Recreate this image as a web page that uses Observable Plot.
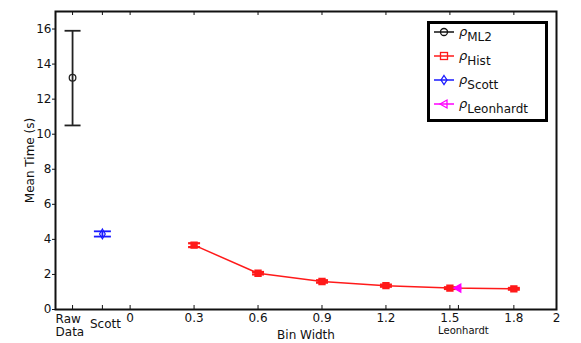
<!DOCTYPE html>
<html><head><meta charset="utf-8">
<script src="https://cdn.jsdelivr.net/npm/d3@7"></script>
<script src="https://cdn.jsdelivr.net/npm/@observablehq/plot@0.6"></script>
<style>
body{margin:0;background:#fff;font-family:"DejaVu Sans",sans-serif;}
#wrap{position:relative;width:581px;height:343px;}
#legend{position:absolute;left:427px;top:21px;}
</style>
</head><body><div id="wrap"></div>
<script>
// ---- data ----
const rawX = -0.27, scottX = -0.13, leonX = 1.54;
const ml2 = [{x: rawX, mean: 13.22, lo: 10.5, hi: 15.9}];
const scott = [{x: scottX, mean: 4.31, lo: 4.16, hi: 4.46}];
const histBins = [0.3, 0.6, 0.9, 1.2, 1.5, 1.8];
const histMean = [3.67, 2.07, 1.6, 1.36, 1.22, 1.18];
const histErr  = [0.11, 0.07, 0.07, 0.06, 0.05, 0.05];
const leon = [{x: leonX, mean: 1.22, lo: 1.18, hi: 1.26}];
const numTicks = [0, 0.3, 0.6, 0.9, 1.2, 1.5, 1.8, 2];
const yTicks = [0, 2, 4, 6, 8, 10, 12, 14, 16];

const hist = histBins.map((b, i) => ({x: b, mean: histMean[i], lo: histMean[i] - histErr[i], hi: histMean[i] + histErr[i]}));

const W = 581, H = 343, mL = 55, mR = 25, mT = 11, mB = 34;
const xDom = [-0.35, 2], yDom = [0, 17];
const kx = (W - mL - mR) / (xDom[1] - xDom[0]);
const ky = (H - mT - mB) / (yDom[1] - yDom[0]);

function caps(data, halfPx) {
  const hw = halfPx / kx;
  return data.flatMap(d => [{x1: d.x - hw, x2: d.x + hw, y: d.lo}, {x1: d.x - hw, x2: d.x + hw, y: d.hi}]);
}
function errMarks(data, color, halfPx, sw) {
  return [
    Plot.ruleX(data, {x: "x", y1: "lo", y2: "hi", stroke: color, strokeWidth: sw}),
    Plot.link(caps(data, halfPx), {x1: "x1", x2: "x2", y1: "y", y2: "y", stroke: color, strokeWidth: sw})
  ];
}

const bottomTicks = [rawX, scottX, ...numTicks.slice(0, -1), leonX];
const topTicks = [rawX, scottX, ...numTicks.slice(0, -1)];
const tickLen = 4 / ky;
const fs = 12;

const chart = Plot.plot({
  width: W, height: H,
  marginLeft: mL, marginRight: mR, marginTop: mT, marginBottom: mB,
  style: {fontFamily: "DejaVu Sans", fontSize: fs + "px", background: "white", color: "#111"},
  x: {domain: xDom},
  y: {domain: yDom},
  marks: [
    Plot.axisY({ticks: yTicks, tickSize: 3, tickPadding: 1, label: "Mean Time (s)", labelAnchor: "center", labelOffset: 30, labelArrow: "none", fontSize: fs}),
    Plot.axisX({ticks: numTicks, tickSize: 0, tickPadding: 4, tickFormat: d => d === 0 ? "0" : d === 2 ? "2" : d.toFixed(1), label: "Bin Width", labelAnchor: "center", labelOffset: 29, labelArrow: "none", fontSize: fs}),
    Plot.axisX({ticks: [rawX], tickSize: 0, tickPadding: 4, tickFormat: () => "Raw\nData", textAnchor: "start", lineHeight: 1.08, dx: -17, label: null, fontSize: fs}),
    Plot.axisX({ticks: [scottX], tickSize: 0, tickPadding: 10, tickFormat: () => "Scott", dx: 3, label: null, fontSize: fs}),
    Plot.axisX({ticks: [leonX], tickSize: 0, tickPadding: 17, tickFormat: () => "Leonhardt", dx: 5, label: null, fontSize: 10}),
    Plot.ruleX(bottomTicks, {x: d => d, y1: yDom[0], y2: yDom[0] + tickLen, stroke: "#111", strokeWidth: 1}),
    Plot.ruleX(topTicks, {x: d => d, y1: yDom[1], y2: yDom[1] - tickLen, stroke: "#111", strokeWidth: 1}),
    // ML2
    ...errMarks(ml2, "#222", 8, 1.8),
    Plot.dot(ml2, {x: "x", y: "mean", r: 3.3, stroke: "#222", strokeWidth: 1.3, fill: "none"}),
    // Scott
    ...errMarks(scott, "#1a1aff", 8.5, 1.8),
    Plot.dot(scott, {x: "x", y: "mean", symbol: "diamond", r: 3, stroke: "#1a1aff", strokeWidth: 1.2, fill: "none"}),
    // Hist
    Plot.line(hist, {x: "x", y: "mean", stroke: "#ff1a1a", strokeWidth: 1.5}),
    ...errMarks(hist, "#ff1a1a", 6, 2.2),
    Plot.dot(hist, {x: "x", y: "mean", symbol: "square", r: 3.3, stroke: "#ff1a1a", strokeWidth: 1.5, fill: "#ff1a1a"}),
    // Leonhardt
    ...errMarks(leon, "#ff00ff", 3, 1.5),
    Plot.dot(leon, {x: "x", y: "mean", symbol: "triangle", rotate: -90, r: 3, stroke: "#ff00ff", strokeWidth: 1.3, fill: "#ff00ff"}),
    Plot.frame({stroke: "#111", strokeWidth: 2})
  ]
});
document.getElementById("wrap").appendChild(chart);

// ---- legend ----
const legendItems = [
  {name: "ML2", color: "#111", shape: "circle"},
  {name: "Hist", color: "#ff1a1a", shape: "square"},
  {name: "Scott", color: "#1a1aff", shape: "diamond"},
  {name: "Leonhardt", color: "#ff00ff", shape: "triangle"}
];
const lw = 121, lh = 101;
const ns = "http://www.w3.org/2000/svg";
const leg = document.createElementNS(ns, "svg");
leg.setAttribute("width", lw); leg.setAttribute("height", lh);
leg.setAttribute("id", "legend");
let html = `<rect x="1.5" y="1.5" width="${lw - 3}" height="${lh - 3}" fill="white" stroke="#000" stroke-width="3"/>`;
legendItems.forEach((it, i) => {
  const cy = 11 + i * 24;
  html += `<line x1="7" x2="27" y1="${cy}" y2="${cy}" stroke="${it.color}" stroke-width="1.5"/>`;
  const c = it.color, cx = 17;
  if (it.shape === "circle") html += `<circle cx="${cx}" cy="${cy}" r="3.5" fill="none" stroke="${c}" stroke-width="1.3"/>`;
  if (it.shape === "square") html += `<rect x="${cx - 3.5}" y="${cy - 3.5}" width="7" height="7" fill="none" stroke="${c}" stroke-width="1.3"/>`;
  if (it.shape === "diamond") html += `<path d="M${cx},${cy - 4.5}L${cx + 3},${cy}L${cx},${cy + 4.5}L${cx - 3},${cy}Z" fill="none" stroke="${c}" stroke-width="1.3"/>`;
  if (it.shape === "triangle") html += `<path d="M${cx - 4},${cy}L${cx + 3},${cy - 4}L${cx + 3},${cy + 4}Z" fill="none" stroke="${c}" stroke-width="1.3"/>`;
  html += `<text x="32" y="${cy + 4}" font-family="DejaVu Sans" fill="#111"><tspan font-size="13" font-style="italic">ρ</tspan><tspan font-size="12" dy="5">${it.name}</tspan></text>`;
});
leg.innerHTML = html;
document.getElementById("wrap").appendChild(leg);
</script>
</body></html>
